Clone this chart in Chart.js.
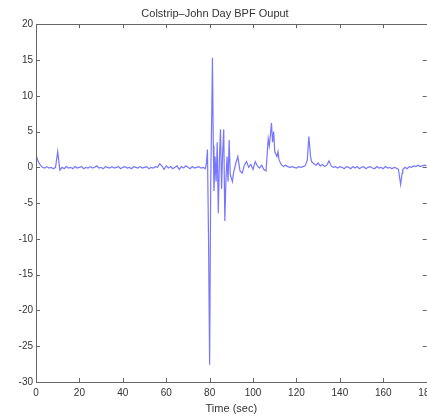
<!DOCTYPE html>
<html><head><meta charset="utf-8">
<script src="https://cdn.jsdelivr.net/npm/chart.js@4/dist/chart.umd.min.js"></script>
<style>
html,body{margin:0;padding:0;background:#fff;overflow:hidden}
#wrap{width:440px;height:417px;position:relative}
</style></head>
<body><div id="wrap"><canvas id="c"></canvas></div>
<script>
// Band-pass filter output (seconds, value)
const times = [
  0,1,2,3,4,5,6,7,8,9,10,11,12,13,14,15,16,17,18,19,
  20,21,22,23,24,25,26,27,28,29,30,31,32,33,34,35,36,37,38,39,
  40,41,42,43,44,45,46,47,48,49,50,51,52,53,54,55,56,57,58,59,
  60,61,62,63,64,65,66,67,68,69,70,71,72,73,74,75,76,77,78,
  78.5,79,79.5,80,80.5,81,81.3,81.7,82,82.5,83,83.5,84,84.5,85,85.5,86,86.5,87,87.5,88,88.5,89,89.5,90,90.5,
  91,92,93,94,95,96,97,98,99,100,101,102,103,104,105,106,107,107.5,108,108.5,109,109.5,110,111,111.5,112,
  113,114,115,116,117,118,119,120,121,122,123,124,125,125.7,126.5,127,128,129,130,131,132,133,134,135,
  136,137,138,139,140,141,142,143,144,145,146,147,148,149,150,151,152,153,154,155,156,157,158,159,
  160,161,162,163,164,165,166,167,168,168.7,169,170,171,172,173,174,175,176,177,178,179,180
];
const values = [
  1.8,0.8,0.3,0.0,-0.1,0.1,-0.1,0.0,-0.2,0.0,2.2,-0.4,0.0,-0.2,0.1,-0.1,0.0,-0.2,0.1,-0.1,
  0.0,0.1,-0.2,0.0,-0.1,0.1,-0.1,0.0,0.2,-0.1,0.0,-0.2,0.1,0.0,-0.1,0.1,-0.1,0.0,0.1,-0.2,
  0.0,0.1,-0.1,0.0,-0.2,0.1,0.0,-0.1,0.1,-0.1,0.0,0.1,-0.2,0.0,-0.1,0.1,0.0,0.5,0.2,-0.3,
  0.2,-0.1,0.1,-0.2,0.0,0.2,-0.3,0.1,-0.1,0.2,0.0,-0.2,0.1,-0.1,0.0,0.1,-0.1,0.0,-0.2,
  0.5,2.5,-10,-27.6,-2,8,15.3,3,-3.3,1.5,-2,3.5,-6.4,1.0,5.3,-3,2,5.3,-7.5,-2,1.5,-2,3.8,-1,-1.5,-2.0,
  -0.8,0.5,1.5,-0.5,-0.8,0.3,0.8,0.0,0.4,-0.3,0.8,0.2,-0.1,0.3,-0.3,-0.5,4.0,3.0,4.5,6.2,3.5,5.0,2.2,1.5,2.2,1.0,
  0.4,0.1,0.3,0.1,0.0,0.1,0.0,-0.1,0.1,0.0,0.1,0.2,1.0,4.3,1.5,0.8,0.5,0.3,0.6,0.2,0.4,0.1,0.3,0.9,
  0.2,0.0,0.1,-0.1,0.1,0.0,-0.2,0.1,0.0,-0.2,0.1,-0.1,0.1,-0.2,0.0,0.1,-0.2,0.0,0.1,-0.1,-0.2,0.1,-0.1,0.0,
  -0.2,0.1,-0.1,0.0,-0.2,0.0,-0.1,-0.3,-2.4,-0.8,-0.3,0.0,-0.2,0.1,0.0,0.2,0.1,0.3,0.1,0.2,0.3,0.2
];
const xTicks = [0,20,40,60,80,100,120,140,160,180];
const yTicks = [-30,-25,-20,-15,-10,-5,0,5,10,15,20];

const FONT = 'Liberation Sans, Arial, Helvetica, sans-serif';
const AXIS = '#666';

// MATLAB-style box with inward tick marks
const boxTicks = {
  id: 'boxTicks',
  afterDraw(chart) {
    const {ctx, chartArea: a, scales: {x, y}} = chart;
    ctx.save();
    ctx.strokeStyle = AXIS;
    ctx.lineWidth = 1;
    ctx.beginPath();
    ctx.rect(Math.round(a.left) + 0.5, Math.round(a.top) + 0.5,
             Math.round(a.right - a.left), Math.round(a.bottom - a.top));
    xTicks.forEach(t => {
      const px = Math.round(x.getPixelForValue(t)) + 0.5;
      ctx.moveTo(px, a.bottom); ctx.lineTo(px, a.bottom - 4);
      ctx.moveTo(px, a.top); ctx.lineTo(px, a.top + 4);
    });
    yTicks.forEach(v => {
      const py = Math.round(y.getPixelForValue(v)) + 0.5;
      ctx.moveTo(a.left, py); ctx.lineTo(a.left + 4, py);
      ctx.moveTo(a.right, py); ctx.lineTo(a.right - 4, py);
    });
    ctx.stroke();
    ctx.restore();
  }
};

new Chart(document.getElementById('c'), {
  type: 'line',
  data: {
    datasets: [{
      data: times.map((t, i) => ({x: t, y: values[i]})),
      borderColor: 'rgba(60,60,255,0.7)',
      borderWidth: 1.2,
      pointRadius: 0,
      tension: 0,
      fill: false
    }]
  },
  options: {
    responsive: true,
    maintainAspectRatio: false,
    animation: false,
    layout: {padding: {left: 0, right: 10, top: 0, bottom: 0}},
    plugins: {
      legend: {display: false},
      tooltip: {enabled: false},
      title: {
        display: true,
        text: 'Colstrip–John Day BPF Ouput',
        color: '#333',
        font: {family: FONT, size: 11, weight: 'normal'},
        padding: {top: 7, bottom: 4}
      }
    },
    scales: {
      x: {
        type: 'linear',
        min: 0, max: 180,
        afterBuildTicks: s => { s.ticks = xTicks.map(v => ({value: v})); },
        afterFit: s => { s.height = 35; },
        grid: {display: false, drawTicks: false, tickLength: 0},
        border: {display: false},
        ticks: {color: '#333', font: {family: FONT, size: 10}, padding: 5, maxRotation: 0, autoSkip: false},
        title: {display: true, text: 'Time (sec)', color: '#333',
                font: {family: FONT, size: 11}, padding: {top: 1, bottom: 1}}
      },
      y: {
        type: 'linear',
        min: -30, max: 20,
        afterBuildTicks: s => { s.ticks = yTicks.map(v => ({value: v})); },
        afterFit: s => { s.width = 36; },
        grid: {display: false, drawTicks: false, tickLength: 0},
        border: {display: false},
        ticks: {color: '#333', font: {family: FONT, size: 10}, padding: 3}
      }
    }
  },
  plugins: [boxTicks]
});
</script>
</body></html>
